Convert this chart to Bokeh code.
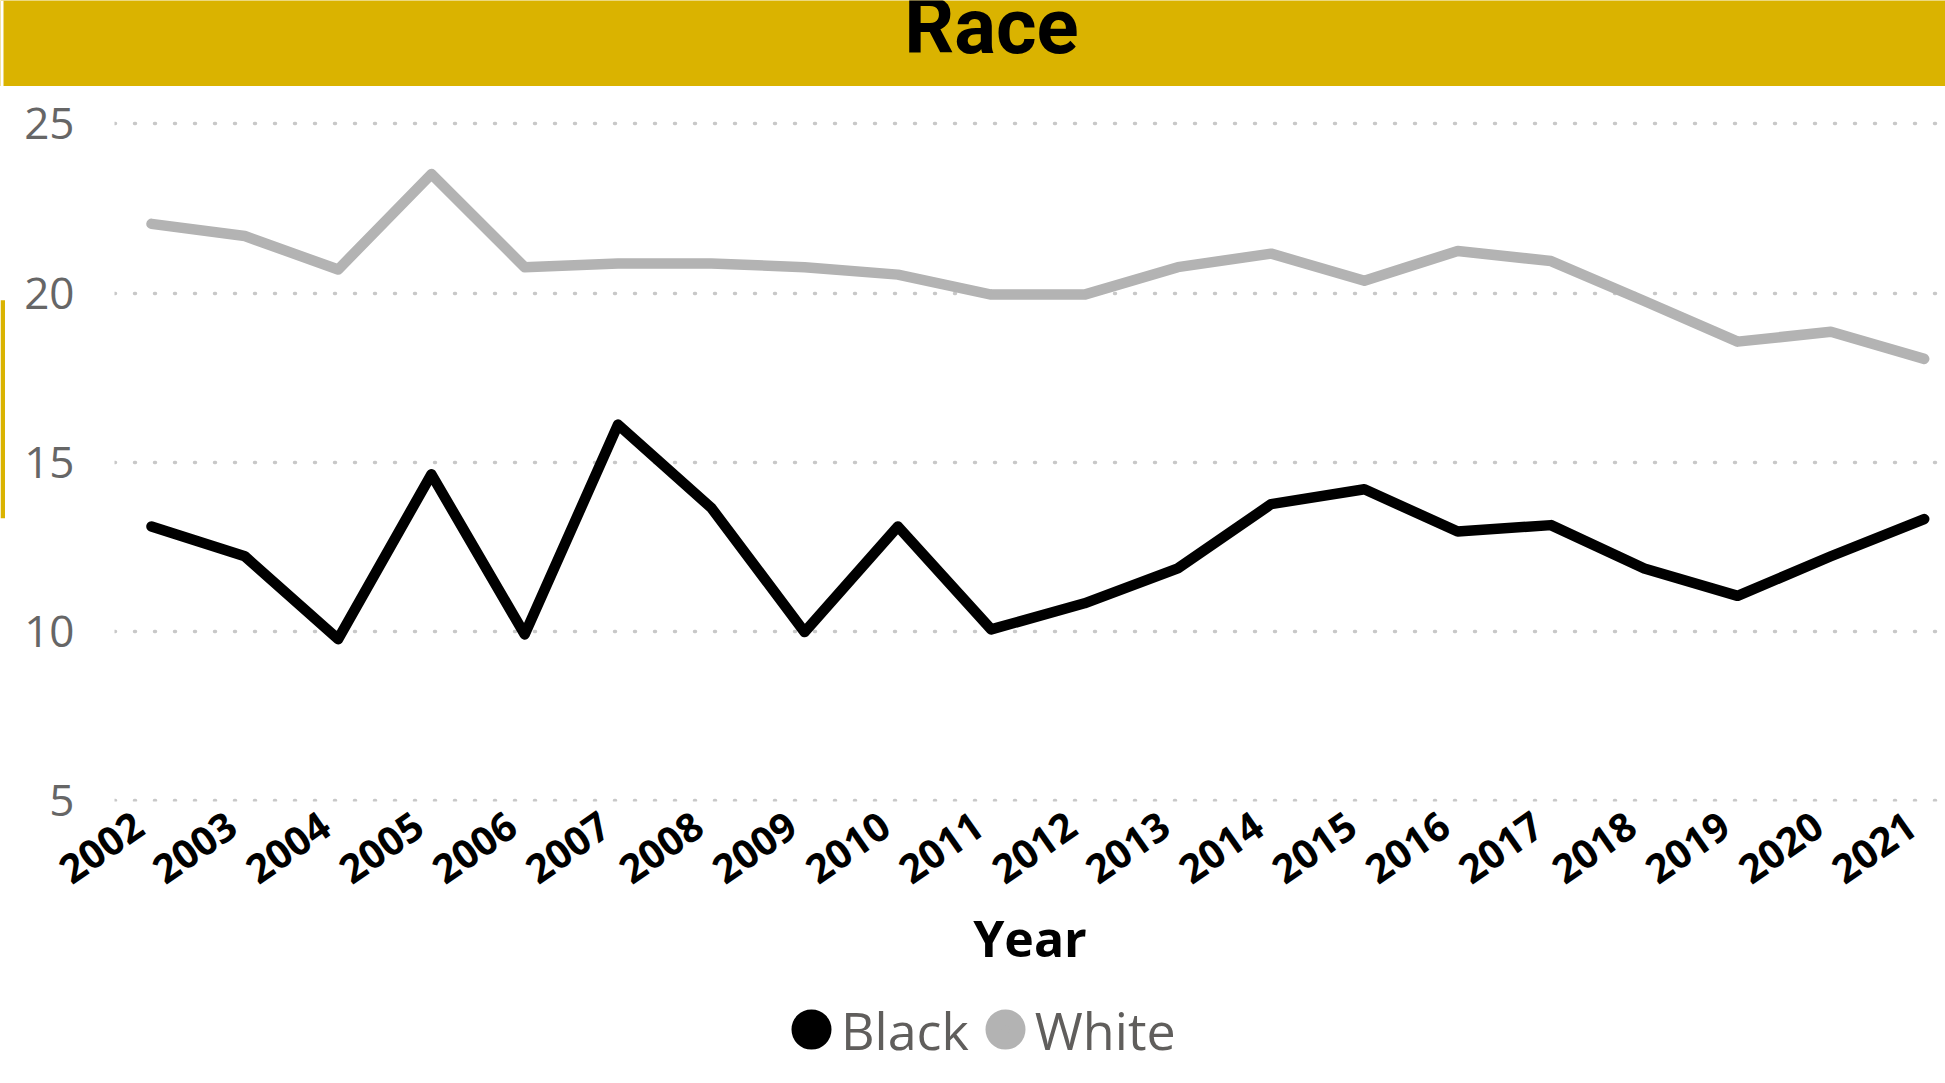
from bokeh.plotting import figure
from bokeh.models import (FixedTicker, Legend, LegendItem, BoxAnnotation,
                          Range1d, LinearAxis)
from bokeh.layouts import column, row
from bokeh.embed import file_html
from bokeh.resources import INLINE

# ---- data ----
years = list(range(2002, 2022))
black = [13.11, 12.23, 9.78, 14.65, 9.92, 16.12, 13.66, 9.99, 13.11, 10.07,
         10.84, 11.87, 13.77, 14.21, 12.96, 13.15, 11.87, 11.06, 12.23, 13.33]
white = [22.05, 21.69, 20.70, 23.52, 20.77, 20.88, 20.88, 20.77, 20.55, 19.96,
         19.96, 20.77, 21.17, 20.37, 21.25, 20.95, 19.77, 18.57, 18.86, 18.06]
y_ticks = [5, 10, 15, 20, 25]
title_text = "Race"
x_title = "Year"
series_names = ["Black", "White"]

GOLD = "#dab300"
BLACK = "#000000"
GREY = "#b3b3b3"

FULL_W = 1945
BAND_H = 86
MAIN_H = 914
LEG_H = 1083 - BAND_H - MAIN_H


def bare(fig):
    fig.axis.visible = False
    fig.grid.visible = False
    fig.outline_line_color = None
    fig.min_border = 0
    return fig


# ---- title band ----
band = bare(figure(width=FULL_W, height=BAND_H, output_backend="svg",
                   toolbar_location=None, x_range=Range1d(0, FULL_W),
                   y_range=Range1d(0, BAND_H), frame_align=False))
band.background_fill_color = GOLD
band.border_fill_color = GOLD
band.add_layout(BoxAnnotation(left=0, right=3, top=BAND_H, bottom=0,
                              fill_color="white", fill_alpha=1, line_color=None))
band.text(x=[991], y=[60], text=[title_text], text_align="center",
          text_baseline="alphabetic", text_font={"value": "Roboto"},
          text_font_style="bold", text_font_size="78px", text_color="#000000")

# ---- main chart ----
x_start = 2001.6034
x_end = 2021.2283
shift = 0.134
p = figure(width=FULL_W - 5, height=MAIN_H, output_backend="svg",
           toolbar_location=None, x_axis_location=None,
           x_range=Range1d(x_start, x_end), y_range=Range1d(4.985, 25.694),
           min_border_left=109, min_border_right=0, min_border_top=14,
           min_border_bottom=199)
p.outline_line_color = None
p.background_fill_color = "white"
p.border_fill_color = "white"
p.extra_x_ranges = {"lab": Range1d(x_start + shift, x_end + shift)}

p.xgrid.grid_line_color = None
p.ygrid.ticker = FixedTicker(ticks=y_ticks)
p.ygrid.grid_line_color = "#c8c8c8"
p.ygrid.grid_line_width = 3.5
p.ygrid.grid_line_dash = "1 19"
p.ygrid.grid_line_cap = "round"

p.yaxis.ticker = FixedTicker(ticks=y_ticks)
p.yaxis.axis_line_color = None
p.yaxis.major_tick_line_color = None
p.yaxis.minor_tick_line_color = None
p.yaxis.major_tick_out = 0
p.yaxis.major_label_standoff = 40
p.yaxis.major_label_text_font = "Open Sans"
p.yaxis.major_label_text_font_size = "44px"
p.yaxis.major_label_text_color = "#666666"

xa = LinearAxis(x_range_name="lab", ticker=FixedTicker(ticks=years))
xa.major_label_overrides = {y: str(y) for y in years}
xa.axis_line_color = None
xa.major_tick_line_color = None
xa.minor_tick_line_color = None
xa.major_tick_out = 0
xa.major_label_standoff = 20
xa.major_label_orientation = 0.6109
xa.major_label_text_font = "Open Sans"
xa.major_label_text_font_style = "bold"
xa.major_label_text_font_size = "40px"
xa.major_label_text_color = "#000000"
xa.axis_label = x_title
xa.axis_label_text_font = "Open Sans"
xa.axis_label_text_font_style = "bold"
xa.axis_label_text_font_size = "50px"
xa.axis_label_text_color = "#000000"
xa.axis_label_standoff = 4
p.add_layout(xa, "below")

p.line(years, white, line_color=GREY, line_width=10.5, line_join="round", line_cap="round")
p.line(years, black, line_color=BLACK, line_width=10.5, line_join="round", line_cap="round")

# ---- left accent strip (frame aligned with the main chart) ----
strip = bare(figure(width=5, height=MAIN_H, output_backend="svg",
                    toolbar_location=None, x_range=Range1d(0, 5),
                    y_range=p.y_range))
strip.background_fill_color = "white"
strip.border_fill_color = "white"
strip.add_layout(BoxAnnotation(left=0, right=5, top=19.79, bottom=13.35,
                               fill_color=GOLD, fill_alpha=1, line_color=None))

# ---- legend ----
leg = bare(figure(width=FULL_W, height=LEG_H, output_backend="svg",
                  toolbar_location=None, x_range=Range1d(0, 1),
                  y_range=Range1d(0, 1), frame_align=False))
leg.background_fill_color = "white"
leg.border_fill_color = "white"
lb = leg.scatter(years, black, marker="circle", size=24, fill_color=BLACK,
                 line_color=BLACK, line_width=16, line_join="round")
lw = leg.scatter(years, white, marker="circle", size=24, fill_color=GREY,
                 line_color=GREY, line_width=16, line_join="round")
legend = Legend(items=[LegendItem(label=series_names[0], renderers=[lb]),
                       LegendItem(label=series_names[1], renderers=[lw])],
                orientation="horizontal", location=(781, 18.5),
                glyph_width=60, glyph_height=60, label_height=60,
                label_standoff=0, spacing=6,
                padding=0, margin=0, border_line_color=None,
                background_fill_alpha=0,
                label_text_font="Open Sans", label_text_font_size="52px",
                label_text_color="#605e5c")
leg.add_layout(legend, "center")

layout = column(band, row(strip, p, spacing=0), leg, spacing=0)
open("out.html", "w").write(file_html(layout, INLINE))
